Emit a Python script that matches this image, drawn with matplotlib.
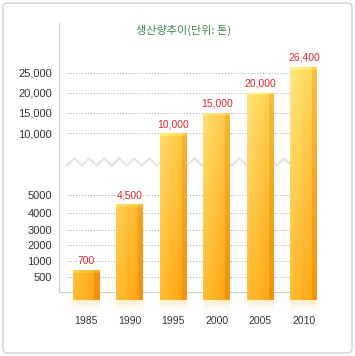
import numpy as np
import matplotlib
matplotlib.use('Agg')
import matplotlib.pyplot as plt
from matplotlib.colors import to_rgb
from matplotlib.patches import FancyBboxPatch

# 데이터
years = ['1985', '1990', '1995', '2000', '2005', '2010']
production = [700, 4500, 10000, 15000, 20000, 26400]
value_labels = ['700', '4,500', '10,000', '15,000', '20,000', '26,400']
tick_values = [500, 1000, 2000, 3000, 4000, 5000, 10000, 15000, 20000, 25000]
tick_labels = ['500', '1000', '2000', '3000', '4000', '5000',
               '10,000', '15,000', '20,000', '25,000']
title = '생산량추이(단위: 톤)'

# 끊어진 축: 구간별 선형 스케일 (값 -> 기준선 위 높이)
scale_vals = np.array([-1000, 0, 500, 1000, 2000, 3000, 4000, 5000,
                       10000, 15000, 20000, 25000, 40000])
scale_pos = np.array([-31.2, 0, 15.6, 31.6, 47.3, 62.3, 79, 97,
                      159, 179.6, 199.6, 219.6, 279.6])


def fwd(v):
    return np.interp(v, scale_vals, scale_pos)


def inv(p):
    return np.interp(p, scale_pos, scale_vals)


fig = plt.figure(figsize=(3.55, 3.56), dpi=100)
ax = fig.add_axes([59 / 355, 44 / 356, 271 / 355, 289 / 356])
ax.set_yscale('function', functions=(fwd, inv))
ax.set_xlim(-0.62, 5.6)
ax.set_ylim(-630, 37400)

x = np.arange(len(years))
w = 0.62
base = -250

# 막대 (그라데이션)
front_bot_l, front_bot_r = np.array(to_rgb('#ffbe34')), np.array(to_rgb('#ffa614'))
front_top_l, front_top_r = np.array(to_rgb('#ffe686')), np.array(to_rgb('#ffd453'))
side_bot, side_top = np.array(to_rgb('#f2920e')), np.array(to_rgb('#f7bf40'))

bars = ax.bar(x, [v - base for v in production], bottom=base, width=w,
              color='none', edgecolor='none', zorder=3)
for c, v, bar in zip(x, production, bars):
    nx = 16
    xe = np.linspace(c - w / 2, c + w / 2, nx + 1)
    top = fwd(v)
    # 픽셀 단위로 거의 균일한 행, 맨 위 2px는 밝은 윗면
    pe = np.append(np.linspace(fwd(base), top - 2.5, 40), top)
    ye = inv(pe)
    ny = len(pe) - 1
    t = (np.arange(nx) + 0.5) / nx
    s = np.clip(((pe[:-1] + pe[1:]) / 2) / 220, 0, 1)
    C = np.zeros((ny, nx, 3))
    for j in range(nx):
        for i in range(ny):
            if t[j] < 0.8:
                tt = t[j] / 0.8
                lo = front_bot_l * (1 - tt) + front_bot_r * tt
                hi = front_top_l * (1 - tt) + front_top_r * tt
            else:
                lo, hi = side_bot, side_top
            C[i, j] = lo * (1 - s[i]) + hi * s[i]
    C[-1] = np.minimum(C[-1] + 0.07, 1)
    ax.pcolormesh(xe, ye, C, shading='flat', zorder=3)
    # 반사
    pr = np.linspace(fwd(-630), fwd(base), 8)
    R = np.zeros((7, nx, 4))
    R[..., :3] = to_rgb('#ffcf70')
    R[..., 3] = np.linspace(0.0, 0.3, 7)[:, None]
    ax.pcolormesh(xe, inv(pr), R, shading='flat', zorder=2)

# 값 라벨
for c, v, lab in zip(x, production, value_labels):
    ax.annotate(lab, (c, v), xytext=(0, 3), textcoords='offset points',
                ha='center', va='bottom', color='#d42a2e', fontsize=7.5,
                family='Liberation Sans', zorder=5)

# 점선 격자
ax.hlines(tick_values, -0.44, 4.68, colors='#a0a0a0',
          linestyles=(0, (1, 2)), linewidth=0.7, zorder=1)
ax.hlines(0, -0.62, 4.68, colors='#cccccc', linewidth=0.8, zorder=1)

# 축 끊김 표시 (지그재그)
period = 15 / 43.6
zx = np.arange(-0.44, 5.3, period / 2)
zy = 0.519 + 0.0121 * np.where(np.arange(len(zx)) % 2 == 0, -1, 1)
ax.plot(zx, zy, color='#e3e3e3', linewidth=1.5, transform=ax.get_xaxis_transform(),
        zorder=1, solid_joinstyle='miter')

for side in ['top', 'right', 'bottom']:
    ax.spines[side].set_visible(False)
ax.spines['left'].set_color('#d0d0d0')
ax.spines['left'].set_bounds(0, 37400)

ax.set_yticks(tick_values)
ax.set_yticklabels(tick_labels)
ax.yaxis.set_minor_locator(matplotlib.ticker.NullLocator())
ax.set_xticks(x)
ax.set_xticklabels(years)
ax.tick_params(axis='both', length=0, colors='#333333', labelsize=7.5)
ax.tick_params(axis='y', pad=5, labelsize=8)
ax.tick_params(axis='x', pad=3)
for lab in ax.get_xticklabels() + ax.get_yticklabels():
    lab.set_family('Liberation Sans')

fig.text(184 / 355, 1 - 30 / 356, title, ha='center', va='center',
         color='#3d8b4f', fontsize=8, family=['Noto Sans CJK KR', 'DejaVu Sans'])

border = FancyBboxPatch((3 / 355, 3 / 356), 349 / 355, 350 / 356,
                        boxstyle='round,pad=0,rounding_size=0.012',
                        transform=fig.transFigure, fc='none', ec='#d0d0d0', lw=1)
fig.patches.append(border)

fig.savefig('out.png', dpi=100)
